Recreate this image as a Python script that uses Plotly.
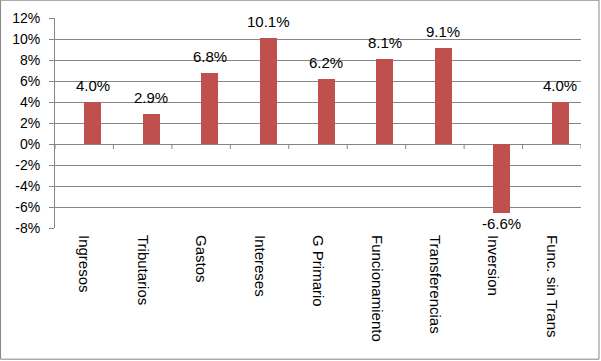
import plotly.graph_objects as go

categories = ["Ingresos", "Tributarios", "Gastos", "Intereses", "G Primario",
              "Funcionamiento", "Transferencias", "Inversion", "Func. sin Trans"]
values = [4.0, 2.9, 6.8, 10.1, 6.2, 8.1, 9.1, -6.6, 4.0]
y_ticks = [-8, -6, -4, -2, 0, 2, 4, 6, 8, 10, 12]
y_tick_labels = [f"{v}%" for v in y_ticks]

BAR = "#C0504D"
GRID = "#868686"
FONT = "Liberation Sans, Arial, sans-serif"

L, R, T, B = 55, 19.5, 18.3, 132.7
W, H = 601, 361
pw, ph = W - L - R, H - T - B

fig = go.Figure()
fig.add_trace(go.Bar(
    x=categories, y=values, width=0.29, offset=0,
    marker=dict(color=BAR, line=dict(width=0)),
    hoverinfo="skip",
))

for c, v in zip(categories, values):
    fig.add_annotation(
        x=c, y=v, xref="x", yref="y", xshift=0.145 * pw / len(categories),
        text=f"{v:.1f}%", showarrow=False,
        yanchor="bottom" if v >= 0 else "top",
        yshift=6 if v >= 0 else 0,
        font=dict(family=FONT, size=15, color="#000000"),
    )

# category boundary tick marks on the zero line
for i in range(len(categories) + 1):
    fig.add_shape(type="line", xref="x", yref="y", x0=i - 0.5, x1=i - 0.5,
                  ysizemode="pixel", yanchor=0, y0=0, y1=-5,
                  line=dict(color=GRID, width=1))

# outer chart border
fig.add_shape(type="rect", xref="paper", yref="paper",
              x0=(0.5 - L) / pw, x1=(W - 1.5 - L) / pw,
              y0=(H - B - (H - 1.5)) / ph, y1=(H - B - 0.5) / ph,
              line=dict(color=GRID, width=1), layer="above")

fig.update_layout(
    width=W, height=H,
    margin=dict(l=L, r=R, t=T, b=B, autoexpand=False),
    paper_bgcolor="white", plot_bgcolor="white",
    showlegend=False,
    bargap=0,
    xaxis=dict(
        type="category", range=[-0.5, len(categories) - 0.5],
        tickangle=90, ticks="", showgrid=False, showline=False,
        tickfont=dict(family=FONT, size=15, color="#000000"),
        ticklabelstandoff=6, fixedrange=True, automargin=False,
    ),
    yaxis=dict(
        range=[-8, 12], tickvals=y_ticks, ticktext=y_tick_labels,
        showgrid=True, gridcolor=GRID, gridwidth=1,
        zeroline=True, zerolinecolor=GRID, zerolinewidth=1,
        showline=True, linecolor=GRID, linewidth=1,
        ticks="outside", ticklen=5, tickcolor=GRID,
        tickfont=dict(family=FONT, size=14, color="#000000"),
        ticklabelstandoff=6, fixedrange=True, automargin=False,
    ),
)

fig.write_html("out.html", config={"displayModeBar": False},
               post_script="document.body.style.margin='0';")
